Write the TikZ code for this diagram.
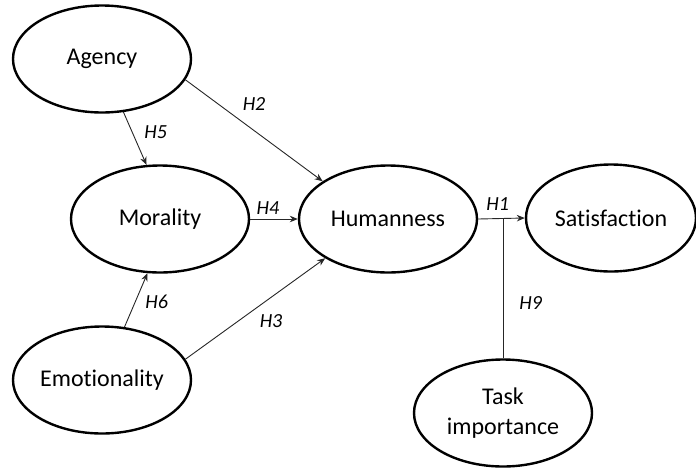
\documentclass[tikz,border=0pt]{standalone}
\usepackage{fontspec}
\setmainfont{Carlito}[Ligatures=NoCommon]
\usetikzlibrary{arrows.meta, shapes.geometric}
\tikzstyle{construct}=[
        draw = black,
        line width = 2.4pt,
        fill = white,
        ellipse,
        minimum width = 178pt,
        minimum height = 107pt,
        inner sep = 0pt,
        align = center,
        font = \fontsize{24}{30}\selectfont
    ]
\tikzstyle{link}=[
    draw = black!85,
    line width = 0.9pt,
    -{Stealth[length=8pt, width=6.5pt]}
]
\tikzstyle{hyp}=[
    font = \fontsize{20}{24}\selectfont\itshape,
    inner sep = 1pt
]

\begin{document}
\begin{tikzpicture}[x=1pt, y=-1pt]
        \useasboundingbox (0,0) rectangle (696,472);

        \node[construct] (agency) at (102,59) {Agency};
        \node[construct] (morality) at (160,219) {Morality};
        \node[construct] (humanness) at (388,219) {Humanness};
        \node[construct, minimum width = 170pt] (satisfaction) at (611,218) {Satisfaction};
        \node[construct] (emotionality) at (102,380) {Emotionality};
        \node[construct] (task) at (503,413) {Task\\importance};
        \coordinate (split) at (task.north |- humanness.east);

        \draw[link] (agency.-68) -- (morality.104) node [hyp, midway, right, xshift=8pt, yshift=6pt] {H5};
        \draw[link] (agency.-14) -- (humanness.150) node [hyp, midway, above=19pt] {H2};
        \draw[link] (morality.east) -- (humanness.west) node [hyp, midway, above, xshift=-6pt, yshift=3pt] {H4};
        \draw[link] (emotionality.67) -- (morality.-103) node [hyp, midway, right, xshift=8pt, yshift=-2pt] {H6};
        \draw[link] (emotionality.14) -- (humanness.-148) node [hyp, midway, below right, xshift=3pt, yshift=-4pt] {H3};
        \draw[link] (humanness.east) -- (satisfaction.west) node [hyp, pos=0.42, above, yshift=7pt] {H1};
        \draw[draw = black!85, line width = 0.9pt] (task.north) -- (split) node [hyp, pos=0.4, right, xshift=15pt] {H9};

    \end{tikzpicture}
\end{document}
